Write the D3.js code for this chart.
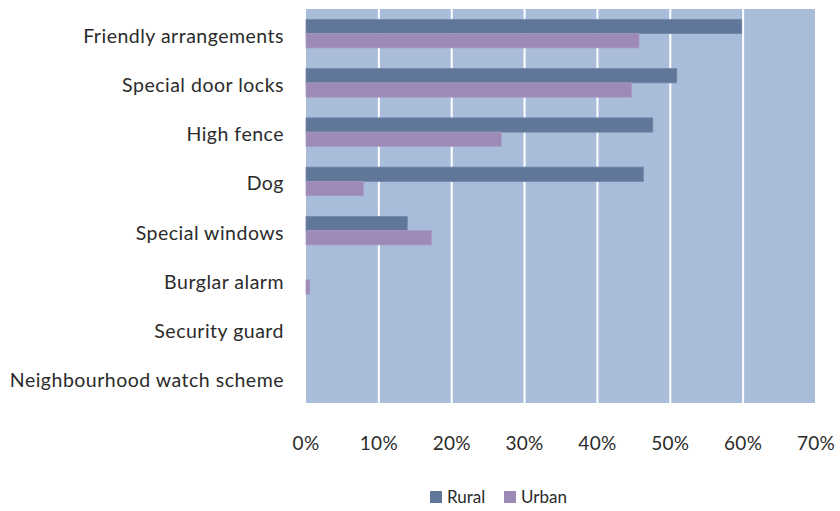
<!DOCTYPE html>
<html>
<head>
<meta charset="utf-8">
<script src="https://cdn.jsdelivr.net/npm/d3@7"></script>
<style>
  html, body { margin: 0; padding: 0; background: #fff; }
  svg { display: block; }
  text { font-family: Lato, "Open Sans", sans-serif; fill: #2b2b2b; }
</style>
</head>
<body>
<svg id="chart" width="840" height="511"></svg>
<script>
// Household security measures, share of households by area
const categories = [
  "Friendly arrangements",
  "Special door locks",
  "High fence",
  "Dog",
  "Special windows",
  "Burglar alarm",
  "Security guard",
  "Neighbourhood watch scheme"
];
const seriesNames = ["Rural", "Urban"];
const rural = [59.8, 50.9, 47.6, 46.3, 13.9, 0, 0, 0];
const urban = [45.7, 44.7, 26.8, 7.9, 17.2, 0.5, 0, 0];
const tickValues = [0, 10, 20, 30, 40, 50, 60, 70];
const colors = ["#607799", "#9d8ab6"];
const strokeColors = ["#7288ab", "#a899c0"];

const svg = d3.select("#chart");
const plot = { left: 306, right: 816, top: 9, bottom: 403 };

const x = d3.scaleLinear().domain([0, 70]).range([plot.left, plot.right]);
const y = d3.scaleBand().domain(categories).range([plot.top, plot.bottom])
  .paddingInner(0.42).paddingOuter(0.21);
const ySub = d3.scaleBand().domain(seriesNames).range([0, y.bandwidth()]);

// plot background
svg.append("rect")
  .attr("x", plot.left).attr("y", plot.top)
  .attr("width", plot.right - plot.left).attr("height", plot.bottom - plot.top)
  .attr("fill", "#a9bddb");

// vertical gridlines
svg.append("g").selectAll("line")
  .data(tickValues.slice(1))
  .join("line")
  .attr("x1", d => x(d)).attr("x2", d => x(d))
  .attr("y1", plot.top).attr("y2", plot.bottom)
  .attr("stroke", "#ffffff").attr("stroke-width", 2);

// bars
const rows = categories.map((c, i) => ({ c, vals: [rural[i], urban[i]] }));
const groups = svg.append("g").selectAll("g")
  .data(rows).join("g")
  .attr("transform", d => `translate(0,${y(d.c)})`);
groups.selectAll("rect")
  .data(d => d.vals.map((v, k) => ({ v, k })).filter(e => e.v > 0))
  .join("rect")
  .attr("x", x(0))
  .attr("y", d => ySub(seriesNames[d.k]))
  .attr("width", d => x(d.v) - x(0))
  .attr("height", ySub.bandwidth())
  .attr("fill", d => colors[d.k])
  .attr("stroke", d => strokeColors[d.k])
  .attr("stroke-width", 0.8);

// category labels
svg.append("g").selectAll("text")
  .data(categories).join("text")
  .attr("x", 284)
  .attr("y", d => y(d) + y.bandwidth() / 2 + 9)
  .attr("text-anchor", "end")
  .attr("font-size", 19.5)
  .attr("letter-spacing", 0.5)
  .text(d => d);

// x axis tick labels
svg.append("g").selectAll("text")
  .data(tickValues).join("text")
  .attr("x", d => x(d))
  .attr("y", 450)
  .attr("text-anchor", "middle")
  .attr("font-size", 19)
  .attr("letter-spacing", 0.3)
  .text(d => d + "%");

// legend
const legend = svg.append("g").attr("transform", "translate(430,491)");
const items = legend.selectAll("g").data(seriesNames).join("g")
  .attr("transform", (d, i) => `translate(${i * 74},0)`);
items.append("rect")
  .attr("width", 12).attr("height", 12)
  .attr("fill", (d, i) => colors[i]);
items.append("text")
  .attr("x", 17).attr("y", 12)
  .attr("font-size", 17)
  .text(d => d);
</script>
</body>
</html>
